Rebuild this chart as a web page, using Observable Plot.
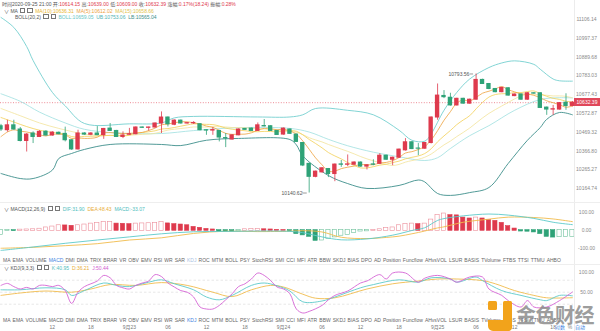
<!DOCTYPE html>
<html><head><meta charset="utf-8">
<script src="https://cdn.jsdelivr.net/npm/d3@7"></script>
<script src="https://cdn.jsdelivr.net/npm/@observablehq/plot@0.6"></script>
<style>
html,body{margin:0;padding:0;background:#fff;}
#root{position:relative;width:600px;height:331px;overflow:hidden;background:#fff;font-family:"Liberation Sans",Arial,sans-serif;}
.t{position:absolute;white-space:nowrap;font-size:5px;line-height:6px;color:#555;font-family:"Liberation Sans","Noto Sans CJK SC",sans-serif;}
.ic{display:inline-block;width:3.4px;height:3.4px;border:0.6px solid #777;margin:0 1px;vertical-align:-0.4px;}
.hl{position:absolute;left:0;width:600px;height:1px;background:#eeeeee;}
.tabs{position:absolute;left:3px;width:558px;display:flex;justify-content:space-between;font-size:5px;line-height:6px;color:#666;font-family:"Liberation Sans",Arial,sans-serif;}
svg{position:absolute;left:0;overflow:visible;background:transparent;}
</style></head><body><div id="root"></div>
<script>
// ---------- data ----------
const open  = [10502,10480,10507,10484,10421,10462,10443,10472,10451,10466,10460,10425,10375,10462,10455,10462,10453,10489,10476,10443,10455,10458,10495,10493,10495,10517,10550,10510,10533,10517,10518,10513,10480,10478,10476,10437,10429,10452,10487,10489,10476,10503,10502,10476,10456,10484,10456,10410,10297,10227,10251,10269,10242,10294,10292,10292,10304,10282,10294,10297,10341,10319,10330,10370,10414,10380,10379,10410,10550,10670,10660,10617,10654,10627,10649,10760,10737,10709,10691,10713,10669,10678,10649,10685,10685,10605,10594,10594,10632,10614.15];
const high  = [10512,10535,10535,10495,10462,10471,10478,10478,10472,10470,10497,10428,10480,10466,10467,10500,10490,10517,10479,10471,10490,10498,10498,10497,10520,10581,10553,10537,10536,10522,10527,10516,10482,10495,10479,10462,10455,10487,10490,10492,10520,10539,10505,10478,10492,10487,10459,10413,10300,10258,10276,10272,10296,10315,10345,10308,10307,10292,10319,10352,10344,10333,10377,10434,10417,10407,10413,10553,10737,10700,10685,10657,10657,10652,10793.56,10764,10740,10712,10718,10716,10681,10681,10688,10688,10688,10608,10617,10633,10682,10639];
const low   = [10473,10469,10480,10416,10361,10407,10440,10448,10447,10455,10416,10370,10372,10452,10450,10450,10430,10473,10440,10434,10452,10455,10490,10475,10492,10462,10498,10505,10514,10514,10512,10477,10452,10452,10416,10385,10426,10450,10479,10474,10474,10498,10473,10451,10453,10457,10413,10282,10140.62,10222,10248,10223,10201,10278,10282,10289,10279,10264,10287,10294,10316,10287,10327,10366,10374,10341,10376,10405,10535,10655,10613,10614,10624,10624,10646,10734,10705,10688,10688,10669,10666,10646,10646,10680,10600,10562,10562,10591,10590,10609];
const close = [10484,10507,10484,10421,10456,10443,10471,10451,10467,10458,10425,10375,10462,10456,10462,10453,10487,10476,10443,10451,10458,10495,10493,10495,10517,10550,10513,10533,10517,10519,10520,10480,10478,10481,10440,10435,10452,10484,10482,10476,10507,10501,10476,10454,10489,10460,10416,10288,10227,10255,10273,10242,10293,10292,10294,10304,10282,10289,10292,10341,10319,10330,10374,10414,10377,10379,10410,10550,10672,10663,10617,10654,10627,10649,10760,10737,10709,10691,10715,10672,10678,10649,10685,10683,10603,10594,10596,10630,10614,10632.39];

// moving-average lead-in values (before a full window exists)
const ma5Head  = [[0,10445],[1,10470],[2,10482],[3,10475]];
const ma10Head = [[0,10550],[2,10525],[4,10500],[6,10480],[8,10468]];
const ma15Head = [[0,10600],[3,10560],[6,10520],[9,10490],[12,10465],[13,10458]];

// Bollinger bands: [candle index, value]
const bollUpper = [[0,11118],[2,11060],[4,10950],[5,10870],[8,10690],[10,10615],[13,10517],[20,10515],[25,10520],[27,10548],[30,10556],[40,10553],[45,10553],[47,10565],[49,10600],[54,10590],[58,10565],[62,10480],[64,10425],[66,10420],[67,10460],[69,10590],[71,10690],[73,10765],[76,10830],[78,10856],[80,10868],[83,10848],[84,10820],[86,10765],[87,10755],[89,10753.06]];
const bollMid   = [[0,10682],[3,10640],[6,10580],[10,10520],[13,10485],[18,10465],[25,10462],[30,10478],[37,10494],[45,10490],[48,10470],[51,10430],[54,10395],[58,10360],[62,10335],[66,10315],[68,10330],[70,10380],[73,10450],[76,10505],[80,10590],[84,10650],[87,10660],[89,10659.05]];
const bollLower = [[0,10245],[3,10218],[5,10218],[8,10263],[9,10326],[11,10353],[13,10375],[17,10402],[25,10402],[28,10396],[32,10425],[37,10435],[45,10429],[46,10400],[47,10340],[51,10234],[54,10191],[57,10165],[62,10181],[65,10210],[66,10200],[68,10138],[70,10128],[73,10143],[76,10170],[79,10299],[82,10425],[84,10495],[85,10540],[87,10578],[89,10565.04]];

// MACD histogram per candle
const macdHist = [-24,-2,-2,3,4,5,8,15,20,27,26,24,27,31,36,40,44,45,36,35,33,36,37,38,40,44,37,33,31,27,18,13,7,4,-4,-5,-5,-3,5,6,7,5,4,2,1,-2,-18,-25,-33,-55,-53,-45,-36,-27,-22,-11,-4,-3,2,5,11,15,27,33,36,33,36,58,82,91,82,81,69,64,69,64,55,51,40,22,9,-4,-5,-9,-18,-33,-37,-35,-34,-33.07];
const difLine = [[0,-109],[5,-90],[10,-70],[15,-52],[20,-35],[25,-18],[30,-7],[35,-5],[40,-3],[45,-5],[47,-12],[50,-35],[53,-51],[57,-46],[60,-32],[62,-18],[64,0],[66,15],[67,35],[68,55],[69,65],[72,80],[76,90],[79,84],[83,66],[86,45],[89,31.9]];
const deaLine = [[0,-97],[5,-92],[10,-83],[15,-72],[20,-52],[25,-40],[30,-16],[35,-4],[40,-6],[45,-4],[47,-1],[50,-8],[53,-37],[57,-44],[60,-38],[62,-31],[64,-18],[66,-3],[67,6],[68,14],[69,20],[72,45],[76,62],[79,73],[83,71],[86,63],[89,48.43]];

// KDJ lines
const kLine = [[0,56],[3,56],[7,61],[10,56],[11,42],[13,54],[16,73],[18,67],[20,64],[23,75],[25,81],[27,71],[30,56],[32,38],[34,31],[36,42],[39,67],[41,73],[43,66],[45,53],[47,26],[50,28],[52,38],[56,61],[58,69],[62,81],[65,75],[67,86],[70,83],[71,75],[74,88],[75,79],[78,54],[81,42],[84,31],[85,29],[87,42],[89,40.95]];
const dLine = [[0,42],[3,48],[7,53],[11,50],[14,58],[17,69],[21,67],[25,74],[29,67],[33,50],[36,39],[39,56],[42,67],[44,63],[47,45],[49,35],[52,36],[57,58],[61,71],[65,78],[68,83],[71,83],[75,79],[77,71],[80,54],[83,42],[85,36],[89,36.21]];
const jLine = [[0,67],[1,72],[2,64],[3,58],[4,62],[5,58],[6,67],[7,67],[8,64],[9,67],[10,54],[11,22],[12,50],[13,64],[14,71],[15,78],[16,92],[17,86],[18,67],[19,61],[20,58],[21,67],[22,73],[23,78],[24,94],[25,89],[26,73],[27,63],[28,54],[29,50],[30,38],[31,13],[32,8],[33,8],[34,17],[35,31],[36,46],[37,64],[38,71],[39,83],[40,98],[41,92],[42,79],[43,63],[44,58],[45,46],[46,8],[47,-2],[48,2],[50,17],[51,31],[52,42],[54,53],[56,73],[57,78],[59,94],[60,83],[61,98],[63,98],[65,75],[66,85],[68,92],[70,83],[71,75],[73,88],[75,88],[76,58],[78,42],[79,29],[81,13],[82,29],[83,13],[85,13],[87,29],[89,50.44]];

const priceTicks = [11106.14,10997.37,10889.68,10783.03,10677.43,10572.87,10469.32,10366.80,10265.27,10164.74];
const macdTicks = [100, 0, -100];
const kdjTicks = [100, 50];
const kdjGrid = [80, 50, 20];
const timeTickIdx = [8,14,20,26,32,38,44,50,56,62,68,74,80,86];
const timeTickLabels = ["12","18","9月23","06","12","18","9月24","06","12","18","9月25","06","12","18"];
const tabNames = ["MA","EMA","VOLUME","MACD","DMI","DMA","TRIX","BRAR","VR","OBV","EMV","RSI","WR","SAR","KDJ","ROC","MTM","BOLL","PSY","StochRSI","SMI","CCI","MFI","ATR","BBW","SKDJ","BIAS","DPO","AD","Position","Funcflow","AHvsVOL","LSUR","BASIS","TVolume","FTBS","TTSI","TTMU","AHBO"];

// ---------- build ----------
const RED = "#de3a4d", GREEN = "#2ea277";
const candles = close.map((c, i) => ({i, open: open[i], high: high[i], low: low[i], close: c, up: c >= open[i]}));
function movingAvg(k, head) {
  const out = head.map(d => ({i: d[0], v: d[1]}));
  for (let i = k - 1; i < close.length; i++) {
    let s = 0; for (let j = i - k + 1; j <= i; j++) s += close[j];
    out.push({i, v: s / k});
  }
  return out;
}
const ma5 = movingAvg(5, ma5Head), ma10 = movingAvg(10, ma10Head), ma15 = movingAvg(15, ma15Head);
const lastClose = close[close.length - 1];

const root = document.getElementById("root");
const XD = [-0.078, 89.17];
const base = {width: 600, marginLeft: 0, marginRight: 27, marginTop: 0, marginBottom: 0,
  style: {background: "transparent", fontFamily: "Liberation Sans, Arial, sans-serif"},
  x: {domain: XD, axis: null}};
const P = () => ({x: d => d[0], y: d => d[1]});
const axisText = (vals, fmt) => Plot.text(vals, {y: d => d, text: fmt, frameAnchor: "right", dx: 13, textAnchor: "middle", fontSize: 5, fill: "#8a8a8a"});

// main price panel
const main = Plot.plot({...base, height: 200,
  y: {type: "log", domain: [10101, 11217.3], axis: null},
  marks: [
    Plot.ruleY([lastClose], {stroke: "#e8707c", strokeDasharray: "1,1.6", strokeWidth: 0.8}),
    Plot.line(bollUpper, {...P(), stroke: "#74cfcf", strokeWidth: 0.9, curve: "catmull-rom"}),
    Plot.line(bollMid, {...P(), stroke: "#9edfe0", strokeWidth: 0.8, curve: "catmull-rom"}),
    Plot.line(bollLower, {...P(), stroke: "#3d8f8b", strokeWidth: 0.9, curve: "catmull-rom"}),
    Plot.line(ma15, {x: "i", y: "v", stroke: "#f3e39a", strokeWidth: 0.8, curve: "catmull-rom"}),
    Plot.line(ma10, {x: "i", y: "v", stroke: "#f2cf55", strokeWidth: 0.8, curve: "catmull-rom"}),
    Plot.line(ma5, {x: "i", y: "v", stroke: "#eda13c", strokeWidth: 0.8, curve: "catmull-rom"}),
    Plot.ruleX(candles, {x: "i", y1: "low", y2: "high", stroke: d => d.up ? RED : GREEN, strokeWidth: 0.8}),
    Plot.rect(candles, {x1: d => d.i - 0.34, x2: d => d.i + 0.34, y1: "open", y2: "close", fill: d => d.up ? RED : GREEN, insetTop: -0.5, insetBottom: -0.5}),
    // high / low annotations
    Plot.ruleY([candles[48]], {y: "low", x1: d => d.i - 1.0, x2: d => d.i - 0.3, stroke: "#555", strokeWidth: 0.6}),
    Plot.text([candles[48]], {x: d => d.i - 1.05, y: "low", text: d => d.low.toFixed(2), textAnchor: "end", fontSize: 5, fill: "#555"}),
    Plot.ruleY([candles[74]], {y: "high", x1: d => d.i - 0.95, x2: d => d.i - 0.4, stroke: "#555", strokeWidth: 0.6}),
    Plot.text([candles[74]], {x: d => d.i - 1.05, y: "high", text: d => d.high.toFixed(2), textAnchor: "end", fontSize: 5, fill: "#555"}),
    axisText(priceTicks, d => d.toFixed(2))
  ]});
main.style.top = "0px";
root.appendChild(main);

// MACD panel
const macdData = macdHist.map((v, i) => ({i, v, hollow: i > 0 ? v > macdHist[i - 1] : true}));
const macd = Plot.plot({...base, height: 55,
  y: {domain: [-153, 147.5], axis: null},
  marks: [
    Plot.rect(macdData, {x1: d => d.i - 0.33, x2: d => d.i + 0.33, y1: 0, y2: "v",
      fill: d => d.hollow ? "#fff" : (d.v >= 0 ? RED : GREEN),
      stroke: d => d.v >= 0 ? (d.hollow ? "#ec8d99" : RED) : (d.hollow ? "#6cc09a" : GREEN),
      strokeWidth: 0.6, insetTop: -0.3, insetBottom: -0.3}),
    Plot.line(deaLine, {...P(), stroke: "#f1bb4c", strokeWidth: 0.9, curve: "catmull-rom"}),
    Plot.line(difLine, {...P(), stroke: "#5cc9c9", strokeWidth: 0.9, curve: "catmull-rom"}),
    axisText(macdTicks, d => d.toFixed(2))
  ]});
macd.style.top = "203px";
root.appendChild(macd);

// KDJ panel
const kdj = Plot.plot({...base, height: 52,
  y: {domain: [-13.25, 116.75], axis: null},
  marks: [
    Plot.ruleY(kdjGrid, {stroke: "#dcdcdc", strokeDasharray: "2.5,2", strokeWidth: 0.7}),
    Plot.line(dLine, {...P(), stroke: "#f1bb4c", strokeWidth: 0.9, curve: "catmull-rom"}),
    Plot.line(kLine, {...P(), stroke: "#5cc9c9", strokeWidth: 0.9, curve: "catmull-rom"}),
    Plot.line(jLine, {...P(), stroke: "#d563d5", strokeWidth: 0.9, curve: "catmull-rom"}),
    axisText(kdjTicks, d => d.toFixed(2))
  ]});
kdj.style.top = "265px";
root.appendChild(kdj);

// time axis
const taxis = Plot.plot({...base, height: 9, y: {axis: null},
  marks: [Plot.text(timeTickIdx, {x: d => d, frameAnchor: "middle", text: (d, i) => timeTickLabels[i], fontSize: 5, fill: "#777", fontFamily: "Liberation Sans, Noto Sans CJK SC, sans-serif"})]});
taxis.style.top = "322px";
root.appendChild(taxis);

// ---------- html overlays ----------
function div(cls, css, html) { const e = document.createElement("div"); e.className = cls; e.style.cssText = css; e.innerHTML = html || ""; root.appendChild(e); return e; }
// separators
div("", "position:absolute;left:574px;top:0;width:1px;height:331px;background:#ececec;");
div("hl", "top:202px;");
div("hl", "top:264px;");
// price tag
const yPix = main.scale("y").apply(lastClose);
div("t", `left:574px;top:${yPix - 4}px;width:26px;height:8px;line-height:8px;background:#e0475a;color:#fff;text-align:center;`, lastClose.toFixed(2));

const R = s => `<span style="color:#e0394b">${s}</span>`;
div("t", "left:2px;top:1px;", `时间2020-09-25 21:00 开:${R("10614.15")} 高:${R("10639.00")} 低:${R("10609.00")} 收:${R("10632.39")} 涨幅:${R("0.17%(18.24)")} 振幅:${R("0.28%")}`);
const icons = `<span class="ic"></span><span class="ic"></span>`;
div("t", "left:4px;top:7.5px;", `∨ MA ${icons} <span style="color:#e9b52e">MA(10):10636.31</span>&nbsp; <span style="color:#eda13c">MA(5):10612.02</span>&nbsp; <span style="color:#e1bf4a">MA(15):10658.66</span>`);
div("t", "left:15px;top:14px;", `BOLL(20,2) ${icons} <span style="color:#66c6c6">BOLL:10659.05</span>&nbsp; <span style="color:#4fb3b3">UB:10753.06</span>&nbsp; <span style="color:#3d8f8b">LB:10565.04</span>`);
div("t", "left:4px;top:205.5px;", `∨ MACD(12,26,9) ${icons} <span style="color:#4fbdbd">DIF:31.90</span>&nbsp; <span style="color:#e8ad38">DEA:48.43</span>&nbsp; <span style="color:#4fbdbd">MACD:-33.07</span>`);
div("t", "left:4px;top:264.5px;", `∨ KDJ(9,3,3) ${icons} <span style="color:#4fbdbd">K:40.95</span>&nbsp; <span style="color:#e8ad38">D:36.21</span>&nbsp; <span style="color:#d05ad0">J:50.44</span>`);

function tabs(top, active, dim) {
  const e = div("tabs", `top:${top}px;`);
  e.innerHTML = tabNames.map(n => `<span style="color:${n === active ? "#3d7fe0" : n === dim ? "#a9bfe3" : "#666"}">${n}</span>`).join("");
}
tabs(257, "MACD", "KDJ");
tabs(316.5, "KDJ", "MACD_");
// scale mode
div("t", "left:555px;top:324px;", `<span style="color:#3d7fe0">对数</span>&nbsp; <span style="color:#888">%</span>&nbsp; <span style="color:#3d7fe0">自动</span>`);

// watermark
div("", "position:absolute;left:488px;top:301px;width:9px;height:9px;background:#f2a31b;border-radius:1.5px;");
div("", "position:absolute;left:503px;top:301px;width:9px;height:30px;background:#f2a31b;border-radius:1.5px 1.5px 4px 1.5px;");
div("", "position:absolute;left:488px;top:320px;width:24px;height:11px;background:#f2a31b;border-radius:0 0 5px 5px;");
div("", "position:absolute;left:516px;top:302px;font-size:20px;line-height:26px;font-weight:bold;color:rgba(140,140,140,0.85);font-family:'Noto Sans CJK SC',sans-serif;letter-spacing:-0.5px;", "金色财经");
</script></body></html>
